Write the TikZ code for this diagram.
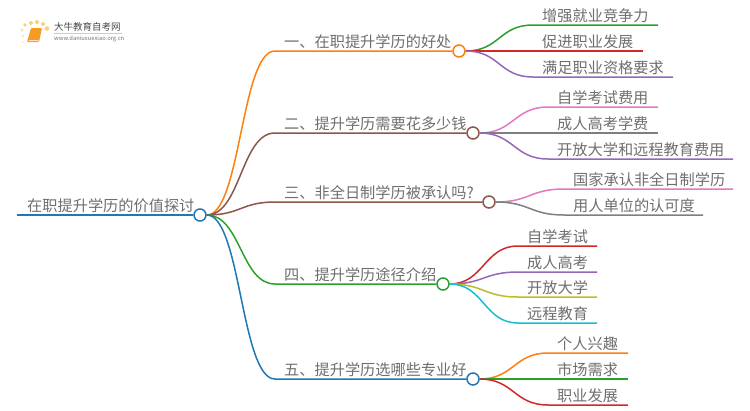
\documentclass[tikz,border=0pt]{standalone}
\usepackage{fontspec}
\setmainfont{Noto Sans CJK SC}
\usepackage{xcolor}
\definecolor{tblue}{HTML}{1F77B4}
\definecolor{torange}{HTML}{FF7F0E}
\definecolor{tgreen}{HTML}{2CA02C}
\definecolor{tred}{HTML}{D62728}
\definecolor{tpurple}{HTML}{9467BD}
\definecolor{tbrown}{HTML}{8C564B}
\definecolor{tpink}{HTML}{E377C2}
\definecolor{tgray}{HTML}{7F7F7F}
\definecolor{tolive}{HTML}{BCBD22}
\definecolor{tcyan}{HTML}{17BECF}
\definecolor{labeltext}{HTML}{6E6E6E}
\definecolor{bookcol}{HTML}{F59A23}
\definecolor{dotcol}{HTML}{FBD07A}
\tikzset{
  hub/.style = {circle, minimum size=12pt, inner sep=0pt, line width=1.5pt, draw=#1, fill=white},
  link/.style = {draw=#1, line width=1.5pt},
  topic/.style = {text=labeltext, font=\fontsize{15.2}{15.2}\selectfont, anchor=base west, inner sep=0pt},
}
\begin{document}
\begin{tikzpicture}[x=1pt,y=-1pt]
\useasboundingbox (0,0) rectangle (750,410);

% logo
\fill[bookcol, rounded corners=1pt] (27,42) -- (31,28) -- (42,28) -- (39,42) -- cycle;
\fill[white!75!bookcol] (29,40) -- (38.5,40) -- (38.2,41) -- (28.7,41) -- cycle;
\fill[dotcol, opacity=.5] (23,42) circle (1.2);
\fill[dotcol, opacity=.6] (23,36) circle (1.4);
\fill[dotcol, opacity=.7] (22,30) circle (1.6);
\fill[dotcol] (25,25) circle (1.8);
\fill[dotcol] (31,23) circle (2);
\fill[dotcol] (37,22) circle (2);
\fill[dotcol] (43,24) circle (2);
\fill[dotcol] (47,28.5) circle (2.3);
\node[text=black!72, font=\fontsize{9.5}{9.5}\selectfont, anchor=base west, inner sep=0pt] (brand) at (54,30.5) {大牛教育自考网};
\node[text=black!55, font=\fontsize{5.8}{5.8}\selectfont, anchor=base west, inner sep=0pt] (site) at (54,40.5) {www.daniuxuexiao.org.cn};
\draw[black!20, line width=.5pt] (54,33.5) -- (122,33.5);

% root
\node[hub=tblue] (root) at (200,215) {};
\coordinate (start) at (17,215);
\draw[link=tblue, line width=2pt] (start) -- (root);
\node[topic] (title) at (27,211) {在职提升学历的价值探讨};

% main branches
\node[hub=torange] (h1) at (459,51) {};
\node[hub=tbrown] (h2) at (473,133) {};
\node[hub=tbrown] (h3) at (489,202) {};
\node[hub=tgreen] (h4) at (443,284) {};
\node[hub=tblue] (h5) at (473,379) {};

\coordinate (k1) at (275,51);
\coordinate (k2) at (275,133);
\coordinate (k3) at (275,202);
\coordinate (k4) at (275,284);
\coordinate (k5) at (275,379);

\draw[link=torange] (root.east) .. controls +(34,0) and +(-34,0) .. (k1) -- (h1);
\draw[link=tbrown] (root.east) .. controls +(34,0) and +(-34,0) .. (k2) -- (h2);
\draw[link=tbrown] (root.east) .. controls +(34,0) and +(-34,0) .. (k3) -- (h3);
\draw[link=tgreen] (root.east) .. controls +(34,0) and +(-34,0) .. (k4) -- (h4);
\draw[link=tblue] (root.east) .. controls +(34,0) and +(-34,0) .. (k5) -- (h5);

\node[topic] (t1) at (284,47) {一、在职提升学历的好处};
\node[topic] (t2) at (284,129) {二、提升学历需要花多少钱};
\node[topic] (t3) at (284,198) {三、非全日制学历被承认吗?};
\node[topic] (t4) at (284,280) {四、提升学历途径介绍};
\node[topic] (t5) at (284,375) {五、提升学历选哪些专业好};

% children of h1
\coordinate (a1) at (533,25); \coordinate (a1e) at (658,25);
\coordinate (a2) at (533,51); \coordinate (a2e) at (643,51);
\coordinate (a3) at (533,77); \coordinate (a3e) at (673,77);
\draw[link=tgreen] (h1.east) .. controls +(34,0) and +(-34,0) .. (a1) -- (a1e);
\draw[link=tred] (h1.east) -- (a2) -- (a2e);
\draw[link=tpurple] (h1.east) .. controls +(34,0) and +(-34,0) .. (a3) -- (a3e);
\node[topic] (a1t) at (542,21) {增强就业竞争力};
\node[topic] (a2t) at (542,47) {促进职业发展};
\node[topic] (a3t) at (542,73) {满足职业资格要求};

% children of h2
\coordinate (b1) at (548,107); \coordinate (b1e) at (658,107);
\coordinate (b2) at (548,133); \coordinate (b2e) at (658,133);
\coordinate (b3) at (548,159); \coordinate (b3e) at (733,159);
\draw[link=tpink] (h2.east) .. controls +(34,0) and +(-34,0) .. (b1) -- (b1e);
\draw[link=tgray] (h2.east) -- (b2) -- (b2e);
\draw[link=tpurple] (h2.east) .. controls +(34,0) and +(-34,0) .. (b3) -- (b3e);
\node[topic] (b1t) at (557,103) {自学考试费用};
\node[topic] (b2t) at (557,129) {成人高考学费};
\node[topic] (b3t) at (557,155) {开放大学和远程教育费用};

% children of h3
\coordinate (c1) at (564,189); \coordinate (c1e) at (733,189);
\coordinate (c2) at (564,215); \coordinate (c2e) at (703,215);
\draw[link=tpink] (h3.east) .. controls +(34,0) and +(-34,0) .. (c1) -- (c1e);
\draw[link=tgray] (h3.east) .. controls +(34,0) and +(-34,0) .. (c2) -- (c2e);
\node[topic] (c1t) at (573,185) {国家承认非全日制学历};
\node[topic] (c2t) at (573,211) {用人单位的认可度};

% children of h4
\coordinate (d1) at (518,246); \coordinate (d1e) at (597,246);
\coordinate (d2) at (518,272); \coordinate (d2e) at (597,272);
\coordinate (d3) at (518,297); \coordinate (d3e) at (597,297);
\coordinate (d4) at (518,323); \coordinate (d4e) at (597,323);
\draw[link=tred] (h4.east) .. controls +(34,0) and +(-34,0) .. (d1) -- (d1e);
\draw[link=tpurple] (h4.east) .. controls +(34,0) and +(-34,0) .. (d2) -- (d2e);
\draw[link=tolive] (h4.east) .. controls +(34,0) and +(-34,0) .. (d3) -- (d3e);
\draw[link=tcyan] (h4.east) .. controls +(34,0) and +(-34,0) .. (d4) -- (d4e);
\node[topic] (d1t) at (527,242) {自学考试};
\node[topic] (d2t) at (527,268) {成人高考};
\node[topic] (d3t) at (527,293) {开放大学};
\node[topic] (d4t) at (527,319) {远程教育};

% children of h5
\coordinate (e1) at (548,353); \coordinate (e1e) at (628,353);
\coordinate (e2) at (548,379); \coordinate (e2e) at (628,379);
\coordinate (e3) at (548,405); \coordinate (e3e) at (628,405);
\draw[link=torange] (h5.east) .. controls +(34,0) and +(-34,0) .. (e1) -- (e1e);
\draw[link=tgreen] (h5.east) -- (e2) -- (e2e);
\draw[link=tred] (h5.east) .. controls +(34,0) and +(-34,0) .. (e3) -- (e3e);
\node[topic] (e1t) at (557,349) {个人兴趣};
\node[topic] (e2t) at (557,375) {市场需求};
\node[topic] (e3t) at (557,401) {职业发展};
\end{tikzpicture}
\end{document}
